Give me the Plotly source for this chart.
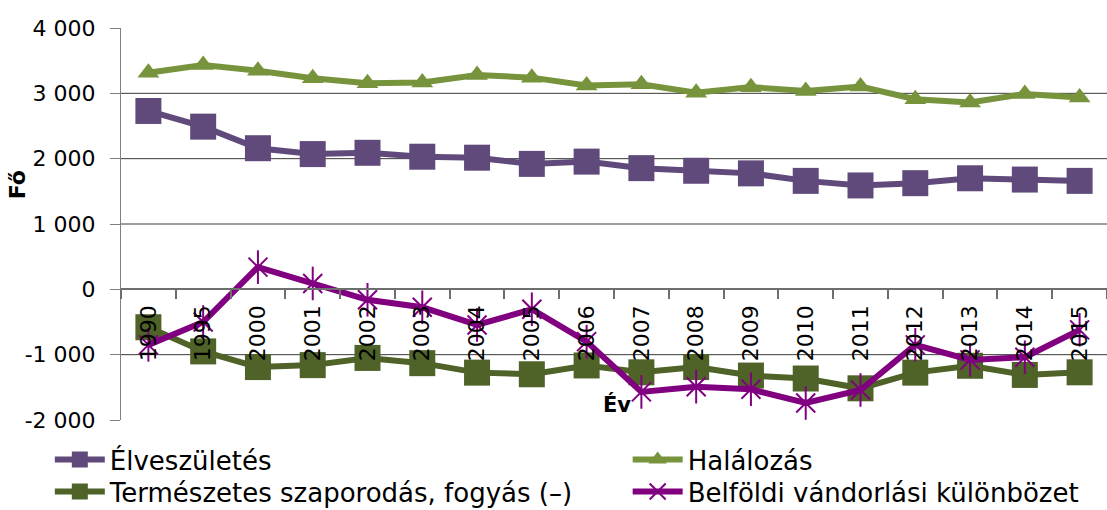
import plotly.graph_objects as go

# Years on the category axis
years = ["1990", "1995", "2000", "2001", "2002", "2003", "2004", "2005", "2006",
         "2007", "2008", "2009", "2010", "2011", "2012", "2013", "2014", "2015"]

# Live births
births = [2730, 2490, 2160, 2070, 2090, 2030, 2015, 1920, 1955, 1855, 1815,
          1775, 1660, 1590, 1625, 1700, 1680, 1660]

# Deaths
deaths = [3315, 3435, 3345, 3230, 3155, 3165, 3280, 3240, 3120, 3140, 3010,
          3095, 3035, 3105, 2910, 2860, 2990, 2935]

# Natural increase / decrease
natural = [-580, -950, -1190, -1160, -1050, -1130, -1275, -1300, -1165, -1270,
           -1190, -1320, -1365, -1515, -1275, -1170, -1310, -1270]

# Net internal migration
migration = [-850, -500, 340, 90, -160, -275, -545, -305, -800, -1570, -1490,
             -1530, -1740, -1540, -850, -1080, -1040, -620]

names = ["Élveszületés", "Halálozás",
         "Természetes szaporodás, fogyás (–)", "Belföldi vándorlási különbözet"]

y_tickvals = [-2000, -1000, 0, 1000, 2000, 3000, 4000]
y_ticktext = ["-2 000", "-1 000", "0", "1 000", "2 000", "3 000", "4 000"]
grid_vals = [-1000, 1000, 2000, 3000]

FONT = "DejaVu Sans"
PURPLE = "#604A7B"
GREEN = "#77933C"
OLIVE = "#4F6228"
MAGENTA = "#800080"

fig = go.Figure()

fig.add_trace(go.Scatter(
    x=years, y=births, name=names[0], mode="lines+markers", legend="legend",
    line=dict(color=PURPLE, width=6),
    marker=dict(symbol="square", size=26, color=PURPLE)))

fig.add_trace(go.Scatter(
    x=years, y=deaths, name=names[1], mode="lines+markers", legend="legend2",
    line=dict(color=GREEN, width=6),
    marker=dict(symbol="triangle-up", size=19, color=GREEN)))

fig.add_trace(go.Scatter(
    x=years, y=natural, name=names[2], mode="lines+markers", legend="legend3",
    line=dict(color=OLIVE, width=6),
    marker=dict(symbol="square", size=26, color=OLIVE)))

fig.add_trace(go.Scatter(
    x=years, y=migration, name=names[3], mode="lines+markers", legend="legend4",
    line=dict(color=MAGENTA, width=6),
    marker=dict(symbol="x-thin-open", size=19, color=MAGENTA,
                line=dict(color=MAGENTA, width=2))))

# vertical stroke completing the star markers
fig.add_trace(go.Scatter(
    x=years, y=migration, mode="markers", showlegend=False, hoverinfo="skip",
    marker=dict(symbol="line-ns-open", size=24, color=MAGENTA,
                line=dict(color=MAGENTA, width=2))))

for v in grid_vals:
    fig.add_shape(type="line", xref="paper", x0=0, x1=1, yref="y", y0=v, y1=v,
                  line=dict(color="#3a3a3a", width=1), layer="below")

fig.add_annotation(text="<b>Év</b>", xref="paper", x=0.503, yref="y", y=-1760,
                   xanchor="center", yanchor="middle", showarrow=False,
                   font=dict(family=FONT, size=21, color="black"))
fig.add_annotation(text="<b>Fő</b>", xref="paper", x=-0.105, yref="paper", y=0.60,
                   xanchor="center", yanchor="middle", textangle=-90, showarrow=False,
                   font=dict(family=FONT, size=22, color="black"))

legend_style = dict(orientation="v", xref="container", yref="container",
                    xanchor="left", yanchor="top",
                    font=dict(family=FONT, size=26, color="black"),
                    itemwidth=50, tracegroupgap=0, bgcolor="rgba(0,0,0,0)")

col1, col2 = 0.045, 0.567
row1, row2 = 0.145, 0.082

fig.update_layout(
    width=1107, height=510,
    margin=dict(l=121, r=0, t=28, b=90, autoexpand=False),
    paper_bgcolor="white", plot_bgcolor="white",
    font=dict(family=FONT, color="black"),
    showlegend=True,
    legend=dict(x=col1, y=row1, **legend_style),
    legend2=dict(x=col2, y=row1, **legend_style),
    legend3=dict(x=col1, y=row2, **legend_style),
    legend4=dict(x=col2, y=row2, **legend_style),
    xaxis=dict(type="category", range=[-0.5, 17.5], anchor="free",
               position=1 / 3, showline=True, linecolor="#6e6e6e", linewidth=2,
               ticks="outside", ticklen=9, tickcolor="#6e6e6e", tickwidth=2,
               tickson="boundaries", tickangle=-90, showgrid=False,
               zeroline=False, ticklabelstandoff=6,
               tickfont=dict(family=FONT, size=22, color="black")),
    yaxis=dict(range=[-2000, 4000], tickvals=y_tickvals, ticktext=y_ticktext,
               showline=True, linecolor="#808080", linewidth=1,
               ticks="outside", ticklen=10, tickcolor="#808080",
               showgrid=False, zeroline=False, ticklabelstandoff=10,
               tickfont=dict(family=FONT, size=22, color="black")),
)

fig.write_html("out.html")
